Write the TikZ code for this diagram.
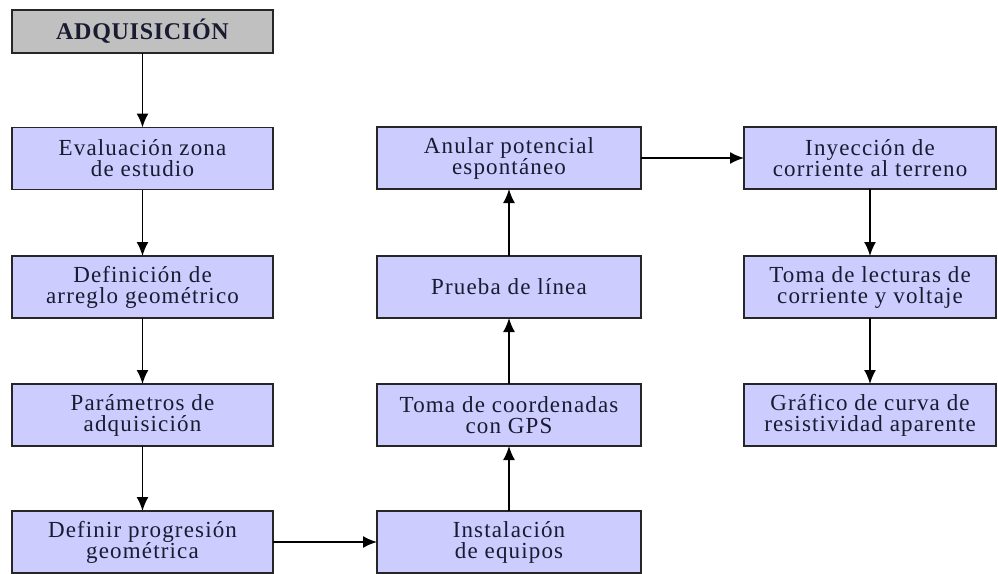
\documentclass[tikz,border=0pt]{standalone}
\usepackage{fontspec}
\setmainfont{Liberation Serif}[LetterSpace=5]
\usetikzlibrary{arrows.meta}
\definecolor{boxfill}{HTML}{CCCCFF}
\definecolor{headfill}{HTML}{C0C0C0}
\definecolor{txt}{HTML}{1A1A30}
\begin{document}
\begin{tikzpicture}[x=1pt,y=-1pt,
  stepbox/.style={draw=black!85, line width=1.6pt, fill=boxfill, align=center,
    minimum width=261pt, minimum height=62pt, inner sep=0pt, outer sep=0pt,
    text=txt, font=\fontsize{23}{21}\selectfont},
  headbox/.style={draw=black!85, line width=1.6pt, fill=headfill, align=center,
    minimum width=261pt, minimum height=43pt, inner sep=0pt, outer sep=0pt,
    text=txt, font=\fontsize{24}{24}\selectfont\bfseries\addfontfeature{LetterSpace=3}},
  conn/.style={line width=1.7pt, -{Latex[length=14pt,width=12pt]}}]
\useasboundingbox (0,0) rectangle (998,573);
\node[headbox] (h) at (142.5,31.5) {ADQUISICIÓN};
\node[stepbox] (a1) at (142.5,158.5) {Evaluación zona\\ de estudio};
\node[stepbox] (a2) at (142.5,287) {Definición de\\arreglo geométrico};
\node[stepbox] (a3) at (142.5,415) {Parámetros de\\adquisición};
\node[stepbox] (a4) at (142.5,542) {Definir progresión\\geométrica};
\node[stepbox, minimum width=264pt] (b1) at (509,158) {Anular potencial\\espontáneo};
\node[stepbox, minimum width=264pt] (b2) at (509,287) {Prueba de línea};
\node[stepbox, minimum width=264pt] (b3) at (509,415) {Toma de coordenadas\\con GPS};
\node[stepbox, minimum width=264pt] (b4) at (509,542) {Instalación\\de equipos};
\node[stepbox, minimum width=252pt] (c1) at (870,158) {Inyección de\\corriente al terreno};
\node[stepbox, minimum width=252pt] (c2) at (870,287) {Toma de lecturas de\\corriente y voltaje};
\node[stepbox, minimum width=252pt] (c3) at (870,415) {Gráfico de curva de\\resistividad aparente};
\draw[conn] (h) -- (a1);
\draw[conn] (a1) -- (a2);
\draw[conn] (a2) -- (a3);
\draw[conn] (a3) -- (a4);
\draw[conn] (a4) -- (b4);
\draw[conn] (b4) -- (b3);
\draw[conn] (b3) -- (b2);
\draw[conn] (b2) -- (b1);
\draw[conn] (b1) -- (c1);
\draw[conn] (c1) -- (c2);
\draw[conn] (c2) -- (c3);
\end{tikzpicture}
\end{document}
